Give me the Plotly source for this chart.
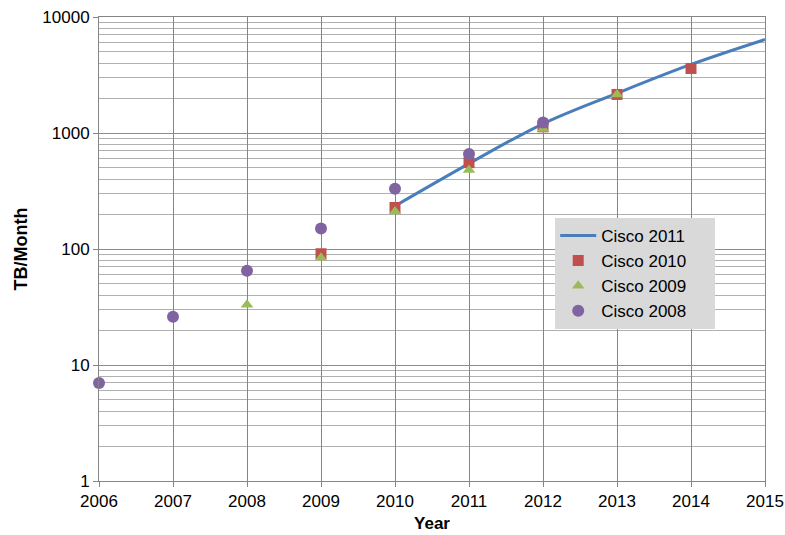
import plotly.graph_objects as go

# Mobile data traffic forecasts (TB/Month)
years_2011 = [2010, 2011, 2012, 2013, 2014, 2015]
cisco_2011 = [235, 545, 1200, 2200, 3900, 6400]

years_2010 = [2009, 2010, 2011, 2012, 2013, 2014]
cisco_2010 = [91, 228, 555, 1130, 2150, 3600]

years_2009 = [2008, 2009, 2010, 2011, 2012, 2013]
cisco_2009 = [33, 84, 210, 480, 1080, 2150]

years_2008 = [2006, 2007, 2008, 2009, 2010, 2011, 2012]
cisco_2008 = [7, 26, 65, 150, 330, 660, 1230]

x_ticks = list(range(2006, 2016))
y_ticks = [1, 10, 100, 1000, 10000]
y_minor = [m * d for d in [1, 10, 100, 1000] for m in range(2, 10)]

FONT = "Liberation Sans, Arial, sans-serif"
PAD = "\u00a0" * 5  # right padding inside the legend box

fig = go.Figure()

fig.add_trace(go.Scatter(
    x=years_2011, y=cisco_2011, name="Cisco 2011" + PAD, mode="lines",
    line=dict(color="#4a7ebb", width=3, shape="spline"),
    legendrank=1, legendgroup="a", cliponaxis=False,
))
fig.add_trace(go.Scatter(
    x=years_2010, y=cisco_2010, name="Cisco 2010" + PAD, mode="markers",
    marker=dict(symbol="square", color="#c0504d", size=11),
    legendrank=2, legendgroup="b", cliponaxis=False,
))
fig.add_trace(go.Scatter(
    x=years_2009, y=cisco_2009, name="Cisco 2009" + PAD, mode="markers",
    marker=dict(symbol="triangle-up", color="#9bbb59", size=11),
    legendrank=3, legendgroup="c", cliponaxis=False,
))
fig.add_trace(go.Scatter(
    x=years_2008, y=cisco_2008, name="Cisco 2008" + PAD, mode="markers",
    marker=dict(symbol="circle", color="#8064a2", size=12),
    legendrank=4, legendgroup="d", cliponaxis=False,
))

fig.update_layout(
    width=785, height=535,
    margin=dict(l=99, r=20, t=17, b=54),
    paper_bgcolor="white", plot_bgcolor="white",
    font=dict(family=FONT, size=17, color="#000"),
    legend=dict(
        x=0.685, y=0.567, xanchor="left", yanchor="top",
        bgcolor="#d9d9d9", font=dict(size=17, family=FONT),
        tracegroupgap=0, itemwidth=36,
    ),
    xaxis=dict(
        range=[2006, 2015], tickvals=x_ticks, ticktext=[str(v) for v in x_ticks],
        automargin=False,
        showgrid=True, gridcolor="#858585", gridwidth=1,
        ticks="outside", ticklen=5, tickcolor="#858585",
        showline=True, linecolor="#858585", zeroline=False,
        mirror=True,
        title=dict(text="<b>Year</b>", font=dict(size=17), standoff=6),
    ),
    yaxis=dict(
        type="log", range=[0, 4], tickvals=y_ticks,
        ticktext=[str(v) for v in y_ticks],
        automargin=False,
        showgrid=True, gridcolor="#8c8c8c", gridwidth=1,
        ticks="outside", ticklen=5, tickcolor="#858585",
        showline=True, linecolor="#858585", zeroline=False,
        mirror=True,
        minor=dict(tickvals=y_minor, showgrid=True, gridcolor="#b0b0b0", ticks=""),
        title=dict(text="<b>TB/Month</b>", font=dict(size=18), standoff=10),
    ),
)

fig.write_html("out.html")
